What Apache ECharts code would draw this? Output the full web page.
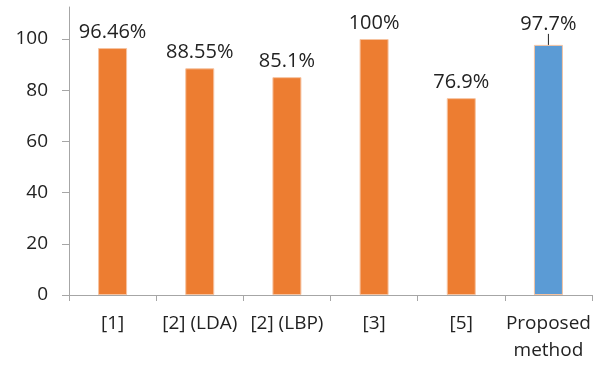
<!DOCTYPE html>
<html>
<head>
<meta charset="utf-8">
<script src="https://cdn.jsdelivr.net/npm/echarts@6/dist/echarts.min.js"></script>
<style>
  html, body { margin: 0; padding: 0; background: #fff; }
  #chart { width: 604px; height: 365px; }
</style>
</head>
<body>
<div id="chart"></div>
<script>
// Recognition accuracy per method
const categories = ['[1]', '[2] (LDA)', '[2] (LBP)', '[3]', '[5]', 'Proposed\nmethod'];
const accuracy = [96.46, 88.55, 85.1, 100, 76.9, 97.7];
const valueLabels = ['96.46%', '88.55%', '85.1%', '100%', '76.9%', '97.7%'];
const yTicks = [0, 20, 40, 60, 80, 100];

const ORANGE = '#ED7D31';
const BLUE = '#5B9BD5';
const FONT = 'Open Sans';
const TEXT = '#222';
const highlightIndex = 5;

const chart = echarts.init(document.getElementById('chart'), null, { renderer: 'canvas' });

const barData = accuracy.map((v, i) => ({
  value: v,
  itemStyle: { color: i === highlightIndex ? BLUE : ORANGE },
  label: { formatter: valueLabels[i] },
  labelLine: { show: i === highlightIndex }
}));

chart.setOption({
  animation: false,
  backgroundColor: '#fff',
  grid: { left: 69, right: 12, top: 7, bottom: 70 },
  xAxis: {
    type: 'category',
    data: categories,
    axisLine: { lineStyle: { color: '#A6A6A6', width: 1 } },
    axisTick: { show: true, length: 6, lineStyle: { color: '#A6A6A6' } },
    axisLabel: {
      color: TEXT, fontFamily: FONT, fontSize: 19, margin: 15, lineHeight: 27,
      interval: 0
    }
  },
  yAxis: {
    type: 'value',
    min: 0,
    max: 112.5,
    splitLine: { show: false },
    axisLine: { show: true, lineStyle: { color: '#A6A6A6', width: 1 } },
    axisTick: { show: true, length: 7, customValues: yTicks, lineStyle: { color: '#A6A6A6' } },
    axisLabel: { color: TEXT, fontFamily: FONT, fontSize: 19, margin: 21, customValues: yTicks }
  },
  series: [{
    type: 'bar',
    data: barData,
    barWidth: 29,
    itemStyle: { borderColor: '#F6C3A0', borderWidth: 1 },
    label: {
      show: true, position: 'top', distance: 6,
      color: TEXT, fontFamily: FONT, fontSize: 20
    },
    labelLayout: function (p) {
      if (p.dataIndex === highlightIndex) return { dy: -5 };
      return {};
    },
    labelLine: { show: false, length2: 0, lineStyle: { color: TEXT, width: 1 } }
  }]
});
</script>
</body>
</html>
